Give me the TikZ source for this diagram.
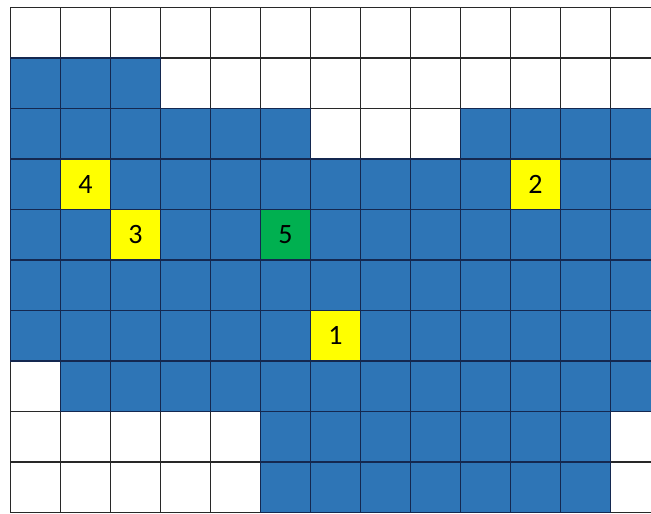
\documentclass[tikz,border=0pt]{standalone}
\usepackage{fontspec}
\setmainfont{Carlito}
\definecolor{cellblue}{RGB}{46,117,182}
\definecolor{cellyellow}{RGB}{255,255,0}
\definecolor{cellgreen}{RGB}{0,176,80}
\definecolor{navyline}{RGB}{20,40,80}
\definecolor{grayline}{RGB}{40,40,40}
\tikzset{
  whitecell/.style={draw=grayline, fill=white, line width=1.2pt},
  bluecell/.style={draw=navyline, fill=cellblue, line width=1.2pt},
  markcell/.style={draw=navyline, line width=1.2pt, minimum width=37.5pt, minimum height=37.875pt,
    inner sep=0pt, outer sep=0pt, font=\fontsize{21}{24}\selectfont, text=black},
  yellowcell/.style={markcell, fill=cellyellow},
  greencell/.style={markcell, fill=cellgreen}
}
\begin{document}
\begin{tikzpicture}[x=0.75pt,y=-0.75pt]
\useasboundingbox (0,0) rectangle (651,514);
\clip (0,0) rectangle (651,514);
\fill[white] (0,0) rectangle (651,514);
\foreach \r in {0,...,9}
  \foreach \c in {0,...,12}
    \draw[whitecell] (10.5+50*\c, 7.5+50.5*\r) rectangle ++(50,50.5);
\foreach \r/\a/\b in {1/0/2, 2/0/5, 2/9/12, 3/0/12, 4/0/12, 5/0/12, 6/0/12, 7/1/12, 8/5/11, 9/5/11}
  \foreach \c in {\a,...,\b}
    \draw[bluecell] (10.5+50*\c, 7.5+50.5*\r) rectangle ++(50,50.5);
\node[yellowcell] (c4) at (35.5+50*1, 32.75+50.5*3) {4};
\node[yellowcell] (c2) at (35.5+50*10, 32.75+50.5*3) {2};
\node[yellowcell] (c3) at (35.5+50*2, 32.75+50.5*4) {3};
\node[greencell]  (c5) at (35.5+50*5, 32.75+50.5*4) {5};
\node[yellowcell] (c1) at (35.5+50*6, 32.75+50.5*6) {1};
\end{tikzpicture}
\end{document}
